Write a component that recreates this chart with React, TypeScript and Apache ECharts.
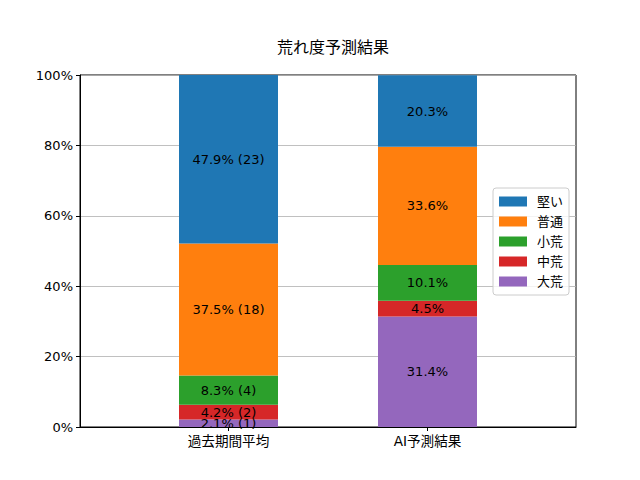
import React, { useEffect, useRef } from "react";
import * as echarts from "echarts";

const categories = ["過去期間平均", "AI予測結果"];
const seriesNames = ["大荒", "中荒", "小荒", "普通", "堅い"];
const legendOrder = ["堅い", "普通", "小荒", "中荒", "大荒"];
const colors = ["#9467bd", "#d62728", "#2ca02c", "#ff7f0e", "#1f77b4"];
// percent values per series: [過去期間平均, AI予測結果]
const daiare = [2.1, 31.4];
const chuare = [4.2, 4.5];
const shoare = [8.3, 10.1];
const futsu = [37.5, 33.6];
const katai = [47.9, 20.3];
// counts (only for 過去期間平均)
const counts = [
  [1, null],
  [2, null],
  [4, null],
  [18, null],
  [23, null],
];
const yTicks = [0, 20, 40, 60, 80, 100];

const values = [daiare, chuare, shoare, futsu, katai];
const FONT = "DejaVu Sans, Noto Sans CJK JP, sans-serif";

export default function App() {
  const ref = useRef<HTMLDivElement>(null);
  useEffect(() => {
    document.body.style.margin = "0";
    const chart = echarts.init(ref.current!, null, { renderer: "svg" });
    chart.setOption({
      animation: false,
      backgroundColor: "#ffffff",
      textStyle: { fontFamily: FONT },
      title: {
        text: "荒れ度予測結果",
        left: 328,
        top: 34,
        textAlign: "center",
        textStyle: { fontSize: 16, fontWeight: "normal", color: "#000", fontFamily: FONT },
      },
      grid: [
        {
          left: 80,
          right: 64,
          top: 75,
          bottom: 53,
          show: true,
          borderColor: "#000",
          borderWidth: 1,
          backgroundColor: "transparent",
        },
        {
          left: 129,
          right: 113,
          top: 75,
          bottom: 53,
          show: false,
        },
      ],
      legend: {
        data: legendOrder,
        orient: "vertical",
        right: 71,
        top: 188,
        itemWidth: 28,
        itemHeight: 10,
        itemGap: 7,
        icon: "rect",
        padding: [7, 6, 7, 6],
        backgroundColor: "rgba(255,255,255,0.8)",
        borderColor: "#cccccc",
        borderWidth: 1,
        borderRadius: 3,
        textStyle: { fontSize: 13, color: "#000", fontFamily: FONT, padding: [0, 0, 0, 5] },
      },
      xAxis: [
        {
          type: "category",
          gridIndex: 0,
          data: categories,
          axisLine: { show: true, lineStyle: { color: "#000" } },
          axisTick: { show: false },
          axisLabel: { show: false },
        },
        {
          type: "category",
          gridIndex: 1,
          data: categories,
          axisLine: { show: false },
          axisTick: { show: true, alignWithLabel: true, length: 4, lineStyle: { color: "#000" } },
          axisLabel: { color: "#000", fontSize: 13.6, margin: 7, fontFamily: FONT },
        },
      ],
      yAxis: [
        {
          type: "value",
          gridIndex: 0,
          min: 0,
          max: 100,
          interval: 20,
          axisLine: { show: true, lineStyle: { color: "#000" } },
          axisTick: { show: true, length: 4, lineStyle: { color: "#000" } },
          axisLabel: {
            color: "#000",
            fontSize: 13,
            margin: 7,
            fontFamily: FONT,
            formatter: (v: number) => (yTicks.includes(v) ? `${v}%` : ""),
          },
          splitLine: { show: true, lineStyle: { color: "#b0b0b0", width: 0.8 } },
        },
        {
          type: "value",
          gridIndex: 1,
          min: 0,
          max: 100,
          interval: 20,
          show: false,
          splitLine: { show: false },
        },
      ],
      series: seriesNames.map((name, i) => ({
        name,
        type: "bar",
        stack: "total",
        xAxisIndex: 1,
        yAxisIndex: 1,
        barWidth: 99,
        itemStyle: { color: colors[i] },
        label: {
          show: true,
          position: "inside",
          color: "#000",
          fontSize: 13,
          fontFamily: FONT,
          formatter: (p: any) => {
            const c = counts[i][p.dataIndex];
            return c != null ? `${p.value}% (${c})` : `${p.value}%`;
          },
        },
        data: values[i],
      })),
    });
    return () => chart.dispose();
  }, []);
  return <div ref={ref} style={{ width: 640, height: 480, position: "absolute", left: 0, top: 0 }} />;
}
